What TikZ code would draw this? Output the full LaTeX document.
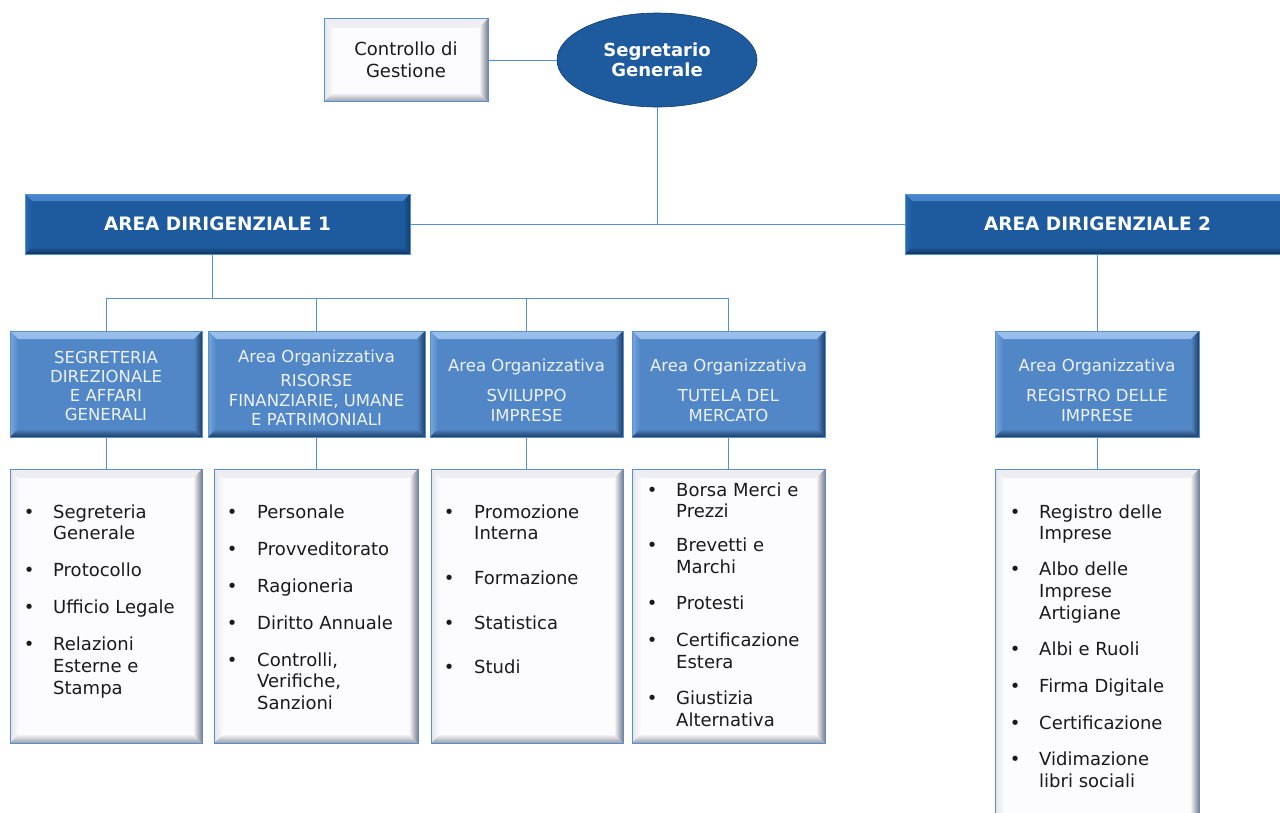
\documentclass[tikz,border=0pt]{standalone}
\usepackage{fontspec}
\setmainfont{DejaVu Sans}
\usetikzlibrary{shapes.geometric}
\definecolor{adblue}{HTML}{1D5B9E}
\definecolor{adT}{HTML}{4A86CC}
\definecolor{adL}{HTML}{2C6AB0}
\definecolor{adB}{HTML}{0F3560}
\definecolor{adR}{HTML}{123F70}
\definecolor{lblue}{HTML}{5287C7}
\definecolor{lT}{HTML}{9CC0EC}
\definecolor{lL}{HTML}{7AA7DE}
\definecolor{lB}{HTML}{1E3B60}
\definecolor{lR}{HTML}{1F3E66}
\definecolor{wfill}{HTML}{FCFCFF}
\definecolor{wT}{HTML}{EDEDF2}
\definecolor{wL}{HTML}{E2E2E9}
\definecolor{wB}{HTML}{9C9CA8}
\definecolor{wR}{HTML}{7E7E8C}
\definecolor{conn}{HTML}{5590D0}
\definecolor{sgA}{HTML}{1D5B9E}
\definecolor{sgB}{HTML}{113A68}
\definecolor{ltext}{HTML}{EDF2F9}
\definecolor{btext}{HTML}{1A1A1A}
\pgfdeclareradialshading{sgshade}{\pgfpoint{0bp}{3bp}}{color(0bp)=(sgA);color(36bp)=(sgA);color(48bp)=(sgB);color(70bp)=(sgB)}
\newcommand{\li}{\makebox[0pt]{\textbullet}}
\tikzset{
  bevel/.style n args={6}{fill=#1, path picture={
    \shade[top color=#2, bottom color=#1] (path picture bounding box.north west) -- (path picture bounding box.north east)
      -- ([shift={(-#6,-#6)}]path picture bounding box.north east) -- ([shift={(#6,-#6)}]path picture bounding box.north west) -- cycle;
    \shade[left color=#3, right color=#1] (path picture bounding box.north west) -- (path picture bounding box.south west)
      -- ([shift={(#6,#6)}]path picture bounding box.south west) -- ([shift={(#6,-#6)}]path picture bounding box.north west) -- cycle;
    \shade[top color=#1, bottom color=#4] (path picture bounding box.south west) -- (path picture bounding box.south east)
      -- ([shift={(-#6,#6)}]path picture bounding box.south east) -- ([shift={(#6,#6)}]path picture bounding box.south west) -- cycle;
    \shade[left color=#1, right color=#5] (path picture bounding box.north east) -- (path picture bounding box.south east)
      -- ([shift={(-#6,#6)}]path picture bounding box.south east) -- ([shift={(-#6,-#6)}]path picture bounding box.north east) -- cycle;
  }},
  boxbase/.style={rectangle, inner sep=0pt, draw=conn, line width=0.8pt},
  adbox/.style={boxbase, bevel={adblue}{adT}{adL}{adB}{adR}{7pt}, text=white,
    font=\fontsize{18.5}{22}\selectfont\bfseries, minimum width=385pt, minimum height=60pt},
  lbox/.style={boxbase, bevel={lblue}{lT}{lL}{lB}{lR}{8pt}, minimum height=106pt},
  wbox/.style={boxbase, bevel={wfill}{wT}{wL}{wB}{wR}{9pt}},
  ltxt/.style={inner sep=0pt, anchor=base, text=ltext, font=\fontsize{16.5}{19.3}\selectfont},
  btxt/.style={inner sep=0pt, anchor=base west, text=btext, font=\fontsize{18}{21.7}\selectfont},
  conn/.style={draw=conn, line width=0.9pt},
}
\begin{document}
\begin{tikzpicture}[x=1pt,y=-1pt]
\useasboundingbox (0,0) rectangle (1280,812);
\fill[white] (0,0) rectangle (1280,812);

% top level
\node[wbox, minimum width=164pt, minimum height=83pt, align=center, text=btext,
  font=\fontsize{18}{21.5}\selectfont] (cg) at (406,60) {Controllo di\\Gestione};
\node[ellipse, shade, shading=sgshade, draw=sgB, line width=0.6pt, inner sep=0pt,
  minimum width=200pt, minimum height=94pt, align=center, text=white,
  font=\fontsize{18}{20.5}\selectfont\bfseries] (sg) at (657,60) {Segretario\\Generale};

% area dirigenziali
\node[adbox] (ad1) at (217.5,224) {AREA DIRIGENZIALE 1};
\node[adbox] (ad2) at (1097.5,224) {AREA DIRIGENZIALE 2};

% level 3
\node[lbox, minimum width=192pt] (b1) at (106,384) {};
\node[lbox, minimum width=217pt] (b2) at (316.5,384) {};
\node[lbox, minimum width=193pt] (b3) at (526.5,384) {};
\node[lbox, minimum width=193pt] (b4) at (728.5,384) {};
\node[lbox, minimum width=204pt] (b5) at (1097,384) {};

\node[ltxt] (b1t) at (106,363) {\begin{tabular}[t]{@{}c@{}}SEGRETERIA\\DIREZIONALE\\E AFFARI\\GENERALI\end{tabular}};
\node[ltxt] (b2t) at (316.5,362.7) {\begin{tabular}[t]{@{}c@{}}Area Organizzativa\\[4.7pt]RISORSE\\FINANZIARIE, UMANE\\E PATRIMONIALI\end{tabular}};
\node[ltxt] (b3t) at (526.5,371.7) {\begin{tabular}[t]{@{}c@{}}Area Organizzativa\\[10.7pt]SVILUPPO\\IMPRESE\end{tabular}};
\node[ltxt] (b4t) at (728.5,371.7) {\begin{tabular}[t]{@{}c@{}}Area Organizzativa\\[10.7pt]TUTELA DEL\\MERCATO\end{tabular}};
\node[ltxt] (b5t) at (1097,371.7) {\begin{tabular}[t]{@{}c@{}}Area Organizzativa\\[10.7pt]REGISTRO DELLE\\IMPRESE\end{tabular}};

% level 4
\node[wbox, minimum width=192pt, minimum height=274pt] (l1) at (106,606) {};
\node[wbox, minimum width=204pt, minimum height=274pt] (l2) at (316,606) {};
\node[wbox, minimum width=192pt, minimum height=274pt] (l3) at (527,606) {};
\node[wbox, minimum width=193pt, minimum height=274pt] (l4) at (728.5,606) {};
\node[wbox, minimum width=204pt, minimum height=361pt] (l5) at (1097,649.5) {};

\node[btxt] (l1t) at (29,518) {\begin{tabular}[t]{@{}l@{\hspace{24pt}}l@{}}
\li & Segreteria\\ & Generale\\[15.3pt]
\li & Protocollo\\[15.3pt]
\li & Ufficio Legale\\[15.3pt]
\li & Relazioni\\ & Esterne e\\ & Stampa\end{tabular}};
\node[btxt] (l2t) at (232,518) {\begin{tabular}[t]{@{}l@{\hspace{25pt}}l@{}}
\li & Personale\\[15.3pt]
\li & Provveditorato\\[15.3pt]
\li & Ragioneria\\[15.3pt]
\li & Diritto Annuale\\[15.3pt]
\li & Controlli,\\ & Verifiche,\\ & Sanzioni\end{tabular}};
\node[btxt] (l3t) at (449,518) {\begin{tabular}[t]{@{}l@{\hspace{25pt}}l@{}}
\li & Promozione\\ & Interna\\[23pt]
\li & Formazione\\[23pt]
\li & Statistica\\[23pt]
\li & Studi\end{tabular}};
\node[btxt] (l4t) at (652,496) {\begin{tabular}[t]{@{}l@{\hspace{24pt}}l@{}}
\li & Borsa Merci e\\ & Prezzi\\[12.5pt]
\li & Brevetti e\\ & Marchi\\[14.5pt]
\li & Protesti\\[15pt]
\li & Certificazione\\ & Estera\\[15pt]
\li & Giustizia\\ & Alternativa\end{tabular}};
\node[btxt] (l5t) at (1015,518) {\begin{tabular}[t]{@{}l@{\hspace{24pt}}l@{}}
\li & Registro delle\\ & Imprese\\[14.3pt]
\li & Albo delle\\ & Imprese\\ & Artigiane\\[15pt]
\li & Albi e Ruoli\\[15pt]
\li & Firma Digitale\\[15pt]
\li & Certificazione\\[15pt]
\li & Vidimazione\\ & libri sociali\end{tabular}};

% connectors
\coordinate (j0) at (657,224);
\coordinate (h1) at (212,298);
\draw[conn] (cg.east) -- (sg.west);
\draw[conn] (sg.south) -- (j0);
\draw[conn] (ad1.east) -- (ad2.west);
\draw[conn] (ad1.south -| h1) -- (h1);
\draw[conn] (b1.north |- h1) -- (b4.north |- h1);
\draw[conn] (b1.north |- h1) -- (b1.north);
\draw[conn] (b2.north |- h1) -- (b2.north);
\draw[conn] (b3.north |- h1) -- (b3.north);
\draw[conn] (b4.north |- h1) -- (b4.north);
\draw[conn] (ad2.south) -- (ad2.south |- b5.north);
\draw[conn] (b1.south) -- (b1.south |- l1.north);
\draw[conn] (b2.south) -- (b2.south |- l2.north);
\draw[conn] (b3.south) -- (b3.south |- l3.north);
\draw[conn] (b4.south) -- (b4.south |- l4.north);
\draw[conn] (b5.south) -- (b5.south |- l5.north);
\end{tikzpicture}
\end{document}
